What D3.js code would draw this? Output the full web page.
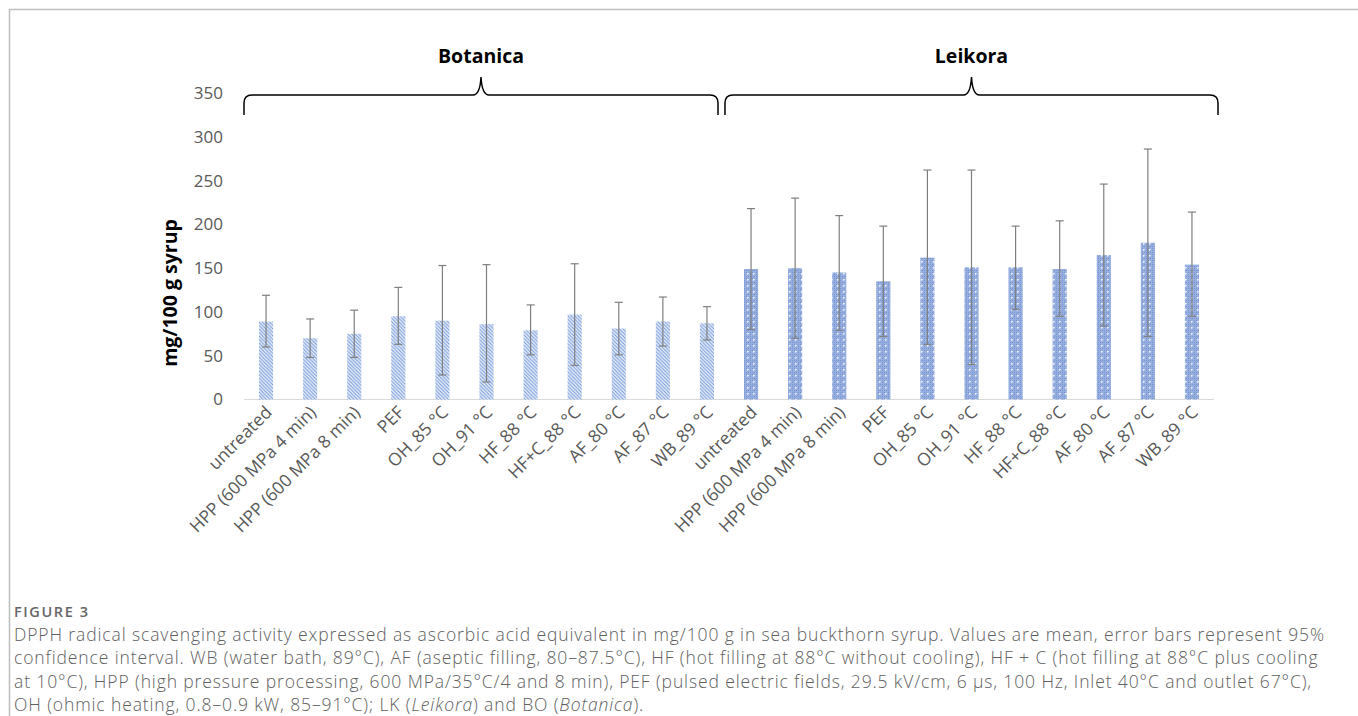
<!DOCTYPE html>
<html>
<head>
<meta charset="utf-8">
<script src="https://cdn.jsdelivr.net/npm/d3@7"></script>
<style>
  html, body { margin: 0; padding: 0; background: #fff; }
  svg { display: block; }
</style>
</head>
<body>
<svg id="chart" width="1358" height="716"></svg>
<script>
// Treatments (same set for both cultivars)
const treatments = ["untreated", "HPP (600 MPa 4 min)", "HPP (600 MPa 8 min)", "PEF",
  "OH_85 °C", "OH_91 °C", "HF_88 °C", "HF+C_88 °C", "AF_80 °C", "AF_87 °C", "WB_89 °C"];
const cultivars = ["Botanica", "Leikora"];

// Mean DPPH scavenging (mg/100 g syrup) and 95% CI bounds
const botanicaMean  = [89, 70, 75, 95, 90, 86, 79, 97, 81, 89, 87];
const botanicaLow   = [60, 48, 48, 63, 28, 20, 51, 39, 51, 61, 68];
const botanicaHigh  = [119, 92, 102, 128, 153, 154, 108, 155, 111, 117, 106];
const leikoraMean   = [149, 150, 145, 135, 162, 151, 151, 149, 165, 179, 154];
const leikoraLow    = [80, 70, 79, 72, 63, 40, 103, 95, 84, 72, 95];
const leikoraHigh   = [218, 230, 210, 198, 262, 262, 198, 204, 246, 286, 214];

const yTicks = [0, 50, 100, 150, 200, 250, 300, 350];

const rows = [];
cultivars.forEach((c, ci) => {
  const m = ci === 0 ? botanicaMean : leikoraMean;
  const lo = ci === 0 ? botanicaLow : leikoraLow;
  const hi = ci === 0 ? botanicaHigh : leikoraHigh;
  treatments.forEach((t, i) => rows.push({ key: c + "|" + t, cultivar: c, label: t, mean: m[i], low: lo[i], high: hi[i] }));
});

const svg = d3.select("#chart");
const W = 1358, H = 716;

// page frame
svg.append("path")
  .attr("d", `M9.5,${H} V9.5 H${W}`)
  .attr("fill", "none").attr("stroke", "#bdbdbd").attr("stroke-width", 1.5);

const plot = { left: 244, right: 1214, top: 93, bottom: 399.5 };

const x = d3.scaleBand().domain(rows.map(d => d.key))
  .range([plot.left, plot.right]).paddingInner(0.68).paddingOuter(0.34);
const y = d3.scaleLinear().domain([0, 350]).range([plot.bottom, plot.top]);

// fill patterns
const defs = svg.append("defs");
const hatch = defs.append("pattern").attr("id", "hatch")
  .attr("patternUnits", "userSpaceOnUse").attr("width", 3.5).attr("height", 3.5);
hatch.append("rect").attr("width", 3.5).attr("height", 3.5).attr("fill", "#e8eef9");
hatch.append("path").attr("d", "M-1,-1 L4.5,4.5 M-1,2.5 L1,4.5 M2.5,-1 L4.5,1")
  .attr("stroke", "#7197da").attr("stroke-width", 1.0);

const dots = defs.append("pattern").attr("id", "dots")
  .attr("patternUnits", "userSpaceOnUse").attr("width", 6).attr("height", 6);
dots.append("rect").attr("width", 6).attr("height", 6).attr("fill", "#97afde");
[[0,0],[2,2],[4,0],[0,4],[4,4],[2,0],[0,2]].forEach(([px, py]) =>
  dots.append("rect").attr("x", px).attr("y", py).attr("width", 1).attr("height", 1).attr("fill", "#7894d2"));
dots.append("rect").attr("x", 3).attr("y", 3).attr("width", 1.6).attr("height", 1.6).attr("fill", "#f2f5fc");

// y axis labels (no axis line)
const yAxis = d3.axisLeft(y).tickValues(yTicks).tickSize(0).tickPadding(0);
const yg = svg.append("g").attr("transform", `translate(223,0)`).call(yAxis);
yg.select(".domain").remove();
yg.selectAll("text")
  .attr("font-family", "'Open Sans', sans-serif").attr("font-size", 17)
  .attr("fill", "#595959");

// baseline
svg.append("line")
  .attr("x1", plot.left).attr("x2", plot.right)
  .attr("y1", y(0)).attr("y2", y(0))
  .attr("stroke", "#d9d9d9").attr("stroke-width", 1.2);

// bars
svg.append("g").selectAll("rect").data(rows).join("rect")
  .attr("x", d => x(d.key)).attr("width", x.bandwidth())
  .attr("y", d => y(d.mean)).attr("height", d => y(0) - y(d.mean))
  .attr("fill", d => d.cultivar === "Botanica" ? "url(#hatch)" : "url(#dots)");

// error bars
const eb = svg.append("g").attr("stroke", "#7f7f7f").attr("stroke-width", 1.2);
rows.forEach(d => {
  const cx = x(d.key) + x.bandwidth() / 2;
  eb.append("line").attr("x1", cx).attr("x2", cx).attr("y1", y(d.low)).attr("y2", y(d.high));
  eb.append("line").attr("x1", cx - 4).attr("x2", cx + 4).attr("y1", y(d.low)).attr("y2", y(d.low));
  eb.append("line").attr("x1", cx - 4).attr("x2", cx + 4).attr("y1", y(d.high)).attr("y2", y(d.high));
});

// category labels
svg.append("g").selectAll("text").data(rows).join("text")
  .attr("transform", d => `translate(${x(d.key) + x.bandwidth() / 2 + 7},${y(0) + 14}) rotate(-45)`)
  .attr("text-anchor", "end")
  .attr("font-family", "'Open Sans', sans-serif").attr("font-size", 17.5)
  .attr("fill", "#595959")
  .text(d => d.label);

// y axis title
svg.append("text")
  .attr("transform", `translate(177,293) rotate(-90)`)
  .attr("text-anchor", "middle")
  .attr("font-family", "'Open Sans', sans-serif").attr("font-weight", 700).attr("font-size", 19.5)
  .attr("fill", "#000")
  .text("mg/100 g syrup");

// cultivar braces
function brace(x0, x1, yLine, yEnd, yPeak) {
  const r = 8, mid = (x0 + x1) / 2;
  const p = d3.path();
  p.moveTo(x0, yEnd);
  p.lineTo(x0, yLine + r);
  p.quadraticCurveTo(x0, yLine, x0 + r, yLine);
  p.lineTo(mid - 8, yLine);
  p.quadraticCurveTo(mid - 1, yLine, mid, yPeak);
  p.quadraticCurveTo(mid + 1, yLine, mid + 8, yLine);
  p.lineTo(x1 - r, yLine);
  p.quadraticCurveTo(x1, yLine, x1, yLine + r);
  p.lineTo(x1, yEnd);
  return p.toString();
}
cultivars.forEach((c, ci) => {
  const first = x(c + "|" + treatments[0]);
  const last = x(c + "|" + treatments[treatments.length - 1]);
  const x0 = ci === 0 ? plot.left : first - 19;
  const x1 = ci === 0 ? last + x.bandwidth() + 4 : plot.right + 4;
  svg.append("path")
    .attr("d", brace(x0, x1, 95, 115, 77))
    .attr("fill", "none").attr("stroke", "#000").attr("stroke-width", 1.5);
  svg.append("text")
    .attr("x", (x0 + x1) / 2).attr("y", 63)
    .attr("text-anchor", "middle")
    .attr("font-family", "'Open Sans', sans-serif").attr("font-weight", 700).attr("font-size", 19.5)
    .attr("fill", "#000")
    .text(c);
});

// caption
const cap = svg.append("g").attr("font-family", "'Open Sans', sans-serif").attr("fill", "#606060");
cap.append("text").attr("x", 14).attr("y", 617)
  .attr("font-size", 14.5).attr("font-weight", 600).attr("fill", "#666").attr("letter-spacing", 1.6)
  .text("FIGURE 3");
const capLines = [
  ["DPPH radical scavenging activity expressed as ascorbic acid equivalent in mg/100 g in sea buckthorn syrup. Values are mean, error bars represent 95%"],
  ["confidence interval. WB (water bath, 89°C), AF (aseptic filling, 80–87.5°C), HF (hot filling at 88°C without cooling), HF + C (hot filling at 88°C plus cooling"],
  ["at 10°C), HPP (high pressure processing, 600 MPa/35°C/4 and 8 min), PEF (pulsed electric fields, 29.5 kV/cm, 6 μs, 100 Hz, Inlet 40°C and outlet 67°C),"],
  ["OH (ohmic heating, 0.8–0.9 kW, 85–91°C); LK (", {i: "Leikora"}, ") and BO (", {i: "Botanica"}, ")."]
];
capLines.forEach((parts, li) => {
  const t = cap.append("text").attr("x", 14).attr("y", 641 + li * 23.3)
    .attr("font-size", 17.5).attr("font-weight", 300).attr("letter-spacing", 0.88);
  parts.forEach(p => {
    if (typeof p === "string") t.append("tspan").text(p);
    else t.append("tspan").attr("font-style", "italic").text(p.i);
  });
});
</script>
</body>
</html>
